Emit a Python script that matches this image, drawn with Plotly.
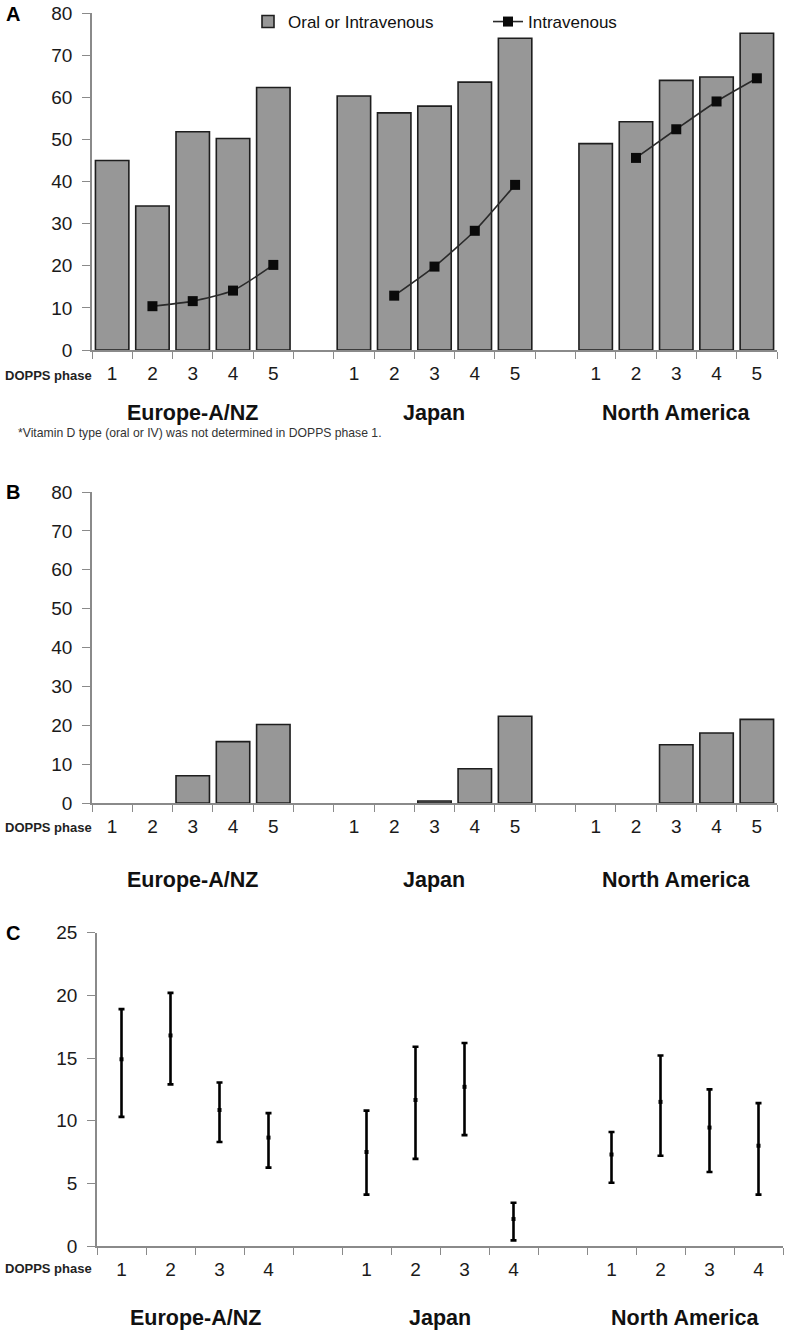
import plotly.graph_objects as go

# ---------------- data ----------------
regions = ["Europe-A/NZ", "Japan", "North America"]
phases_ab = ["1", "2", "3", "4", "5"]
phases_c = ["1", "2", "3", "4"]

# Panel A: % vitamin D use
a_europe_any = [45.0, 34.2, 51.8, 50.2, 62.3]
a_japan_any = [60.3, 56.3, 57.9, 63.6, 74.0]
a_na_any = [49.0, 54.2, 64.0, 64.8, 75.2]
a_europe_iv = [None, 10.4, 11.6, 14.1, 20.2]
a_japan_iv = [None, 12.9, 19.8, 28.3, 39.2]
a_na_iv = [None, 45.6, 52.4, 59.0, 64.5]

# Panel B
b_europe = [None, None, 7.0, 15.8, 20.2]
b_japan = [None, None, 0.5, 8.8, 22.3]
b_na = [None, None, 15.0, 18.0, 21.5]

# Panel C: estimate with CI
c_europe_est = [14.9, 16.8, 10.85, 8.65]
c_europe_hi = [18.9, 20.2, 13.05, 10.6]
c_europe_lo = [10.3, 12.9, 8.3, 6.25]
c_japan_est = [7.5, 11.65, 12.7, 2.15]
c_japan_hi = [10.8, 15.9, 16.2, 3.45]
c_japan_lo = [4.1, 6.95, 8.85, 0.45]
c_na_est = [7.3, 11.5, 9.45, 8.0]
c_na_hi = [9.1, 15.2, 12.5, 11.4]
c_na_lo = [5.05, 7.2, 5.9, 4.1]

footnote = "*Vitamin D type (oral or IV) was not determined in DOPPS phase 1."


def build(phases, series_list):
    cats, labels, vals = [], [], []
    for i, (reg, ser) in enumerate(zip(regions, series_list)):
        if i > 0:
            cats.append(f"gap{i}")
            labels.append("")
            vals.append(None)
        for p, v in zip(phases, ser):
            cats.append(f"{reg}|{p}")
            labels.append(p)
            vals.append(v)
    return cats, labels, vals


FONT = "Arial, Liberation Sans, sans-serif"
BAR_FILL = "#979797"
BAR_LINE = "#1e1e1e"
AXIS_COL = "#8a8a8a"
TXT = "#1a1a1a"

catsA, labA, any_vals = build(phases_ab, [a_europe_any, a_japan_any, a_na_any])
_, _, iv_vals = build(phases_ab, [a_europe_iv, a_japan_iv, a_na_iv])
_, _, b_vals = build(phases_ab, [b_europe, b_japan, b_na])
catsC, labC, c_est = build(phases_c, [c_europe_est, c_japan_est, c_na_est])
_, _, c_hi = build(phases_c, [c_europe_hi, c_japan_hi, c_na_hi])
_, _, c_lo = build(phases_c, [c_europe_lo, c_japan_lo, c_na_lo])
err_plus = [None if e is None else h - e for e, h in zip(c_est, c_hi)]
err_minus = [None if e is None else e - l for e, l in zip(c_est, c_lo)]

fig = go.Figure()

fig.add_trace(go.Bar(x=catsA, y=any_vals, name="Oral or Intravenous",
                     marker=dict(color=BAR_FILL, line=dict(color=BAR_LINE, width=1.6)),
                     xaxis="x", yaxis="y", showlegend=True))
fig.add_trace(go.Scatter(x=catsA, y=iv_vals, name="Intravenous", mode="lines+markers",
                         line=dict(color="#2a2a2a", width=1.6, shape="spline", smoothing=0.6),
                         marker=dict(symbol="square", size=10, color="#0a0a0a"),
                         connectgaps=False, xaxis="x", yaxis="y", showlegend=True))
fig.add_trace(go.Bar(x=catsA, y=b_vals, name="B",
                     marker=dict(color=BAR_FILL, line=dict(color=BAR_LINE, width=1.6)),
                     xaxis="x2", yaxis="y2", showlegend=False))
fig.add_trace(go.Scatter(x=catsC, y=c_est, mode="markers",
                         marker=dict(symbol="square", size=4, color="#000"),
                         error_y=dict(type="data", symmetric=False, array=err_plus,
                                      arrayminus=err_minus, color="#000", thickness=2.6, width=3),
                         xaxis="x3", yaxis="y3", showlegend=False))

H = 1335.0
W = 788.0


def ydom(top_px, bot_px):
    return [1 - bot_px / H, 1 - top_px / H]


def xaxis_common(dom, cats, labels):
    return dict(domain=dom, type="category", categoryorder="array", categoryarray=cats,
                tickmode="array", tickvals=cats, ticktext=labels, tickson="boundaries",
                range=[-0.5, len(cats) - 0.5], showline=True, linecolor=AXIS_COL, linewidth=1.6,
                ticks="outside", ticklen=7, tickcolor=AXIS_COL, tickwidth=1.4,
                tickfont=dict(family=FONT, size=19, color=TXT), showgrid=False, zeroline=False,
                fixedrange=True, ticklabelstandoff=5, automargin=False)


def yaxis_common(dom, rng, dtick):
    return dict(domain=dom, range=rng, dtick=dtick, tick0=0, showline=True, linecolor=AXIS_COL,
                linewidth=1.6, ticks="outside", ticklen=8, tickcolor=AXIS_COL, tickwidth=1.4,
                tickfont=dict(family=FONT, size=19, color=TXT), showgrid=False, zeroline=False,
                ticklabelstandoff=6, automargin=False, fixedrange=True)


xa = xaxis_common([92 / W, 777 / W], catsA, labA); xa["anchor"] = "y"
xb = xaxis_common([92 / W, 777 / W], catsA, labA); xb["anchor"] = "y2"
xc = xaxis_common([97 / W, 783 / W], catsC, labC); xc["anchor"] = "y3"
ya = yaxis_common(ydom(13, 350), [0, 80], 10); ya["anchor"] = "x"
yb = yaxis_common(ydom(492, 803), [0, 80], 10); yb["anchor"] = "x2"
yc = yaxis_common(ydom(932.7, 1246), [0, 25], 5); yc["anchor"] = "x3"

slotA = (777 - 92) / len(catsA)
slotC = (783 - 97) / len(catsC)

annotations = []
# panel letters
for letter, ypx in [("A", 14), ("B", 492), ("C", 933)]:
    annotations.append(dict(text=f"<b>{letter}</b>", x=4 / W, y=1 - ypx / H, xref="paper", yref="paper",
                            xanchor="left", yanchor="middle", showarrow=False,
                            font=dict(family=FONT, size=20, color="#000")))
# "DOPPS phase" labels and region names
for xref, ypx_lab, ypx_reg, cats, shift in [("x", 375, 413, catsA, 2 * slotA),
                                            ("x2", 827, 880, catsA, 2 * slotA),
                                            ("x3", 1268, 1318, catsC, 1.5 * slotC)]:
    annotations.append(dict(text="<b>DOPPS phase</b>", x=3 / W, y=1 - ypx_lab / H, xref="paper",
                            yref="paper", xanchor="left", yanchor="middle", showarrow=False,
                            font=dict(family=FONT, size=13, color="#222")))
    for reg in regions:
        members = [c for c in cats if c.startswith(reg + "|")]
        annotations.append(dict(text=f"<b>{reg}</b>", x=members[0], xshift=shift, y=1 - ypx_reg / H,
                                xref=xref, yref="paper", xanchor="center", yanchor="middle",
                                showarrow=False, font=dict(family=FONT, size=21.5, color="#111")))

annotations.append(dict(text=footnote, x=16 / W, y=1 - 433 / H, xref="paper", yref="paper",
                        xanchor="left", yanchor="middle", showarrow=False,
                        font=dict(family=FONT, size=12.2, color="#333")))

fig.update_layout(
    width=788, height=1335, margin=dict(l=0, r=0, t=0, b=0, autoexpand=False),
    paper_bgcolor="white", plot_bgcolor="white",
    bargap=0.17,
    xaxis=xa, xaxis2=xb, xaxis3=xc, yaxis=ya, yaxis2=yb, yaxis3=yc,
    annotations=annotations,
    legend=dict(orientation="h", x=248 / W, y=1 - 4 / H, xanchor="left", yanchor="top",
                font=dict(family=FONT, size=17, color="#111"), bgcolor="rgba(0,0,0,0)",
                entrywidth=195, itemwidth=30),
    font=dict(family=FONT),
    hovermode=False,
)

fig.write_html("out.html", config={"displayModeBar": False},
               post_script="document.body.style.margin='0';document.body.style.padding='0';"
                           "document.documentElement.style.overflow='hidden';")
